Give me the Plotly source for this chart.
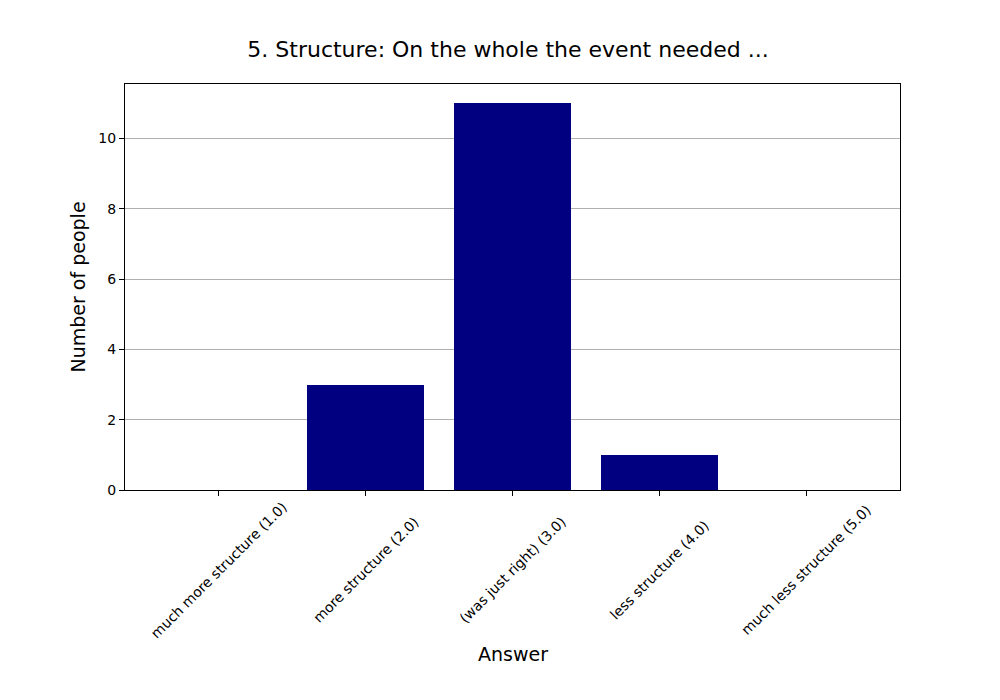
import plotly.graph_objects as go

categories = ["much more structure (1.0)", "more structure (2.0)", "(was just right) (3.0)",
              "less structure (4.0)", "much less structure (5.0)"]
counts = [0, 3, 11, 1, 0]
y_ticks = [0, 2, 4, 6, 8, 10]

fig = go.Figure(go.Bar(
    x=list(range(len(categories))), y=counts, width=0.8,
    marker=dict(color="#000080", line=dict(width=0)),
))

font = "DejaVu Sans"
fig.update_layout(
    width=1000, height=700,
    paper_bgcolor="white", plot_bgcolor="white",
    margin=dict(l=117, r=108, t=76, b=218),
    font=dict(family=font, color="black", size=14),
    title=dict(text="5. Structure: On the whole the event needed ...",
               x=0.5, xanchor="center", y=1 - 41 / 700, yanchor="middle",
               font=dict(size=22)),
    showlegend=False,
    bargap=0,
)

# rotated category labels, centred under each tick (matplotlib style)
for i, name in enumerate(categories):
    fig.add_annotation(x=i, xref="x", y=0, yref="paper", text=name, showarrow=False,
                       textangle=-45, xanchor="center", yanchor="middle",
                       yshift=-80, font=dict(size=14))

fig.add_annotation(x=0.5, xref="paper", y=0, yref="paper", text="Answer", showarrow=False,
                   xanchor="center", yanchor="middle", yshift=-164, font=dict(size=19))

fig.update_xaxes(
    range=[-0.64, 4.64], tickmode="array", tickvals=list(range(len(categories))),
    showticklabels=False, ticks="outside", ticklen=5, tickcolor="black",
    showline=True, linecolor="black", linewidth=1, mirror=True, showgrid=False,
    zeroline=False,
)
fig.update_yaxes(
    range=[0, 11.55], tickmode="array", tickvals=y_ticks, ticks="outside", ticklen=5,
    tickcolor="black", showline=True, linecolor="black", linewidth=1, mirror=True,
    showgrid=True, gridcolor="#b0b0b0", gridwidth=1, zeroline=False,
    title=dict(text="Number of people", font=dict(size=19), standoff=7),
)

fig.write_html("out.html")
